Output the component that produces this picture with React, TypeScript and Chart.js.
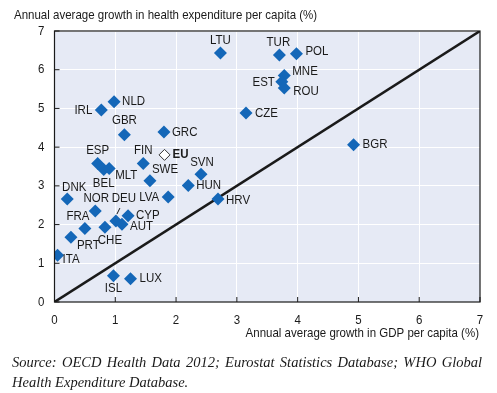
import React, { useEffect, useRef } from "react";
import { Chart, registerables } from "chart.js";

Chart.register(...registerables);

const COUNTRIES = [
  "LTU", "TUR", "POL", "MNE", "EST", "ROU", "CZE", "BGR", "IRL", "NLD", "GBR",
  "GRC", "ESP", "FIN", "SVN", "SWE", "HUN", "LVA", "HRV", "DNK", "NOR", "BEL",
  "MLT", "DEU", "FRA", "PRT", "CHE", "CYP", "AUT", "ITA", "ISL", "LUX",
];
const GDP_GROWTH = [
  2.73, 3.70, 3.98, 3.78, 3.74, 3.78, 3.15, 4.92, 0.77, 0.98, 1.15,
  1.80, 0.71, 1.46, 2.41, 1.57, 2.20, 1.87, 2.69, 0.21, 0.67, 0.81,
  0.90, 1.01, 0.50, 0.27, 0.83, 1.21, 1.11, 0.05, 0.97, 1.25,
];
const HEALTH_GROWTH = [
  6.43, 6.38, 6.41, 5.85, 5.69, 5.53, 4.88, 4.06, 4.96, 5.17, 4.32,
  4.39, 3.58, 3.58, 3.30, 3.13, 3.01, 2.71, 2.66, 2.66, 2.35, 3.42,
  3.45, 2.09, 1.90, 1.67, 1.93, 2.23, 2.01, 1.21, 0.68, 0.60,
];
const EU_LABEL = "EU";
const EU_GDP = [1.81];
const EU_HEALTH = [3.80];
const DIAGONAL_X = [0, 7];
const DIAGONAL_Y = [0, 7];
const AXIS_TICKS = [0, 1, 2, 3, 4, 5, 6, 7];
const X_TITLE = "Annual average growth in GDP per capita (%)";
const Y_TITLE = "Annual average growth in health expenditure per capita (%)";
const SOURCE_LINE1 = "Source: OECD Health Data 2012; Eurostat Statistics Database; WHO Global";
const SOURCE_LINE2 = "Health Expenditure Database.";

// label placement: [textAlign, dx, dy]
const LABEL_LAYOUT: Record<string, [CanvasTextAlign, number, number]> = {
  LTU: ["center", 0, -13], TUR: ["center", -1, -13], POL: ["left", 9, -2],
  MNE: ["left", 8, -4], EST: ["right", -7, 1], ROU: ["left", 9, 4],
  CZE: ["left", 9, 0], BGR: ["left", 9, 0], IRL: ["right", -9, 0],
  NLD: ["left", 8, 0], GBR: ["center", 0, -14], GRC: ["left", 8, 0],
  EU: ["left", 8, 0], ESP: ["center", 0, -13], FIN: ["center", 0, -13],
  SVN: ["center", 1, -12], SWE: ["left", 2, -11], HUN: ["left", 8, 0],
  LVA: ["right", -9, 0], HRV: ["left", 8, 1], DNK: ["center", 7, -12],
  NOR: ["center", 1, -13], BEL: ["center", 0, 14], MLT: ["left", 6, 7],
  DEU: ["center", 8, -23], FRA: ["center", -7, -12], PRT: ["left", 6, 8],
  CHE: ["center", 5, 13], CYP: ["left", 8, 0], AUT: ["left", 8, 2],
  ITA: ["left", 5, 4], ISL: ["center", 0, 13], LUX: ["left", 9, 0],
};

const TEXT_FONT = "'Liberation Sans', Arial, sans-serif";
const TEXT_SIZE = 13;
const NARROW = 0.885; // horizontal squeeze to mimic a narrow grotesque
const BLUE = "#1467b8";
const INK = "#1a1a1a";

function narrowText(ctx: CanvasRenderingContext2D, text: string, x: number, y: number, align: CanvasTextAlign, bold = false) {
  ctx.font = (bold ? "bold " : "") + TEXT_SIZE + "px " + TEXT_FONT;
  const w = ctx.measureText(text).width * NARROW;
  let lx = x;
  if (align === "center") lx = x - w / 2;
  else if (align === "right") lx = x - w;
  ctx.save();
  ctx.translate(lx, y);
  ctx.scale(NARROW, 1);
  ctx.textAlign = "left";
  ctx.textBaseline = "middle";
  ctx.fillText(text, 0, 0);
  ctx.restore();
}

const decorPlugin = {
  id: "decor",
  beforeDraw(chart: any) {
    const { ctx, chartArea } = chart;
    ctx.save();
    ctx.fillStyle = "#e6eaf5";
    ctx.fillRect(chartArea.left, chartArea.top, chartArea.right - chartArea.left, chartArea.bottom - chartArea.top);
    ctx.restore();
  },
  afterDatasetsDraw(chart: any) {
    const { ctx, chartArea, scales } = chart;
    const { left, right, top, bottom } = chartArea;
    ctx.save();
    ctx.strokeStyle = INK;
    ctx.lineWidth = 1.2;
    ctx.strokeRect(left, top, right - left, bottom - top);
    ctx.lineWidth = 1;
    AXIS_TICKS.forEach((v) => {
      const px = scales.x.getPixelForValue(v);
      ctx.beginPath();
      ctx.moveTo(px, bottom);
      ctx.lineTo(px, bottom - 5);
      ctx.stroke();
      const py = scales.y.getPixelForValue(v);
      ctx.beginPath();
      ctx.moveTo(left, py);
      ctx.lineTo(left + 5, py);
      ctx.stroke();
    });
    ctx.fillStyle = INK;
    chart.data.datasets.forEach((ds: any, di: number) => {
      if (!ds.labels) return;
      const meta = chart.getDatasetMeta(di);
      meta.data.forEach((pt: any, i: number) => {
        const name = ds.labels[i];
        const lay = LABEL_LAYOUT[name];
        if (!lay) return;
        narrowText(ctx, name, pt.x + lay[1], pt.y + lay[2], lay[0], name === EU_LABEL);
        if (name === "DEU") {
          ctx.beginPath();
          ctx.lineWidth = 1;
          ctx.moveTo(pt.x + 1, pt.y - 7);
          ctx.lineTo(pt.x + 4, pt.y - 13);
          ctx.stroke();
        }
      });
    });
    narrowText(ctx, Y_TITLE, 14, 15, "left");
    narrowText(ctx, X_TITLE, right - 1, 333, "right");
    AXIS_TICKS.forEach((v) => {
      narrowText(ctx, String(v), scales.x.getPixelForValue(v), 320, "center");
      narrowText(ctx, String(v), left - 10, scales.y.getPixelForValue(v), "right");
    });
    ctx.restore();
  },
};

export default function App() {
  const ref = useRef<HTMLCanvasElement>(null);
  useEffect(() => {
    if (!ref.current) return;
    const chart = new Chart(ref.current, {
      type: "scatter",
      data: {
        datasets: [
          {
            type: "scatter",
            labels: COUNTRIES,
            data: COUNTRIES.map((_, i) => ({ x: GDP_GROWTH[i], y: HEALTH_GROWTH[i] })),
            pointStyle: "rectRot",
            pointRadius: 6.5,
            backgroundColor: BLUE,
            borderColor: BLUE,
            borderWidth: 0,
            order: 1,
          } as any,
          {
            type: "scatter",
            labels: [EU_LABEL],
            data: EU_GDP.map((x, i) => ({ x, y: EU_HEALTH[i] })),
            pointStyle: "rectRot",
            pointRadius: 5.5,
            backgroundColor: "#ffffff",
            borderColor: "#333333",
            borderWidth: 1,
            order: 0,
          } as any,
          {
            type: "line",
            data: DIAGONAL_X.map((x, i) => ({ x, y: DIAGONAL_Y[i] })),
            borderColor: INK,
            borderWidth: 2.5,
            pointRadius: 0,
            fill: false,
            order: 2,
          } as any,
        ],
      },
      options: {
        responsive: false,
        animation: false,
        devicePixelRatio: 1,
        layout: { padding: { top: 31, right: 17, left: 0, bottom: 0 } },
        plugins: { legend: { display: false }, tooltip: { enabled: false }, title: { display: false } },
        scales: {
          x: {
            type: "linear",
            min: 0,
            max: 7,
            afterFit: (s: any) => { s.height = 91; },
            afterBuildTicks: (s: any) => { s.ticks = AXIS_TICKS.map((v) => ({ value: v })); },
            grid: { color: "#ffffff", lineWidth: 1, drawTicks: false },
            border: { display: false },
            ticks: { display: false },
          },
          y: {
            type: "linear",
            min: 0,
            max: 7,
            afterFit: (s: any) => { s.width = 54.5; },
            afterBuildTicks: (s: any) => { s.ticks = AXIS_TICKS.map((v) => ({ value: v })); },
            grid: { color: "#ffffff", lineWidth: 1, drawTicks: false },
            border: { display: false },
            ticks: { display: false },
          },
        },
      },
      plugins: [decorPlugin],
    } as any);
    return () => chart.destroy();
  }, []);

  const captionStyle: React.CSSProperties = {
    position: "absolute",
    left: 12,
    width: 470,
    fontFamily: "'Liberation Serif', 'DejaVu Serif', serif",
    fontStyle: "italic",
    fontSize: 14.5,
    lineHeight: "20px",
    color: INK,
    whiteSpace: "nowrap",
  };

  return (
    <div style={{ position: "absolute", left: 0, top: 0, width: 497, height: 393, background: "#ffffff" }}>
      <canvas ref={ref} width={497} height={393} style={{ display: "block", width: 497, height: 393 }} />
      <div style={{ ...captionStyle, top: 352, textAlign: "justify", textAlignLast: "justify", whiteSpace: "normal" }}>
        {SOURCE_LINE1}
      </div>
      <div style={{ ...captionStyle, top: 372 }}>{SOURCE_LINE2}</div>
    </div>
  );
}
